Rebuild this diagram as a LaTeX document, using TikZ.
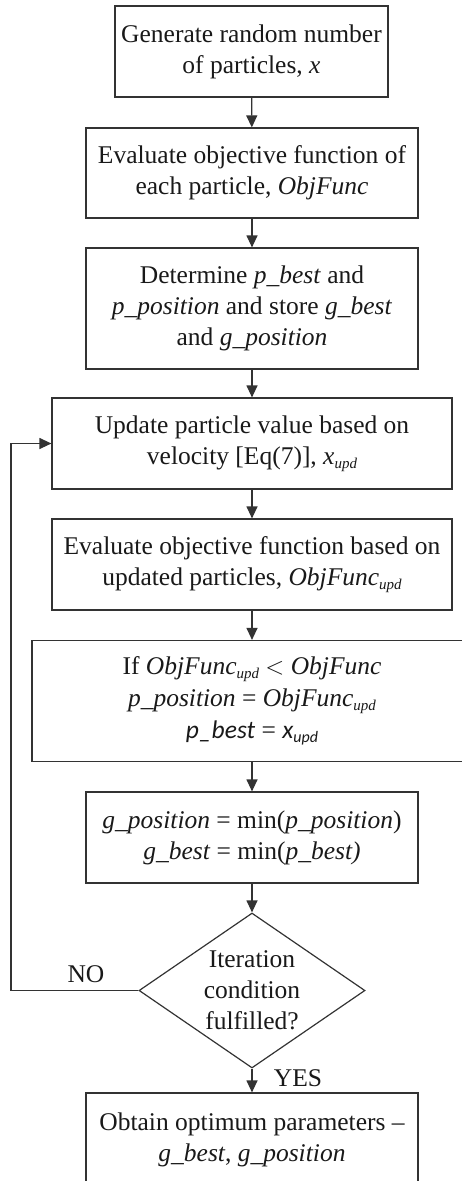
\documentclass[tikz,border=0pt]{standalone}
\usepackage{fontspec}
\setmainfont{Liberation Serif}
\newfontfamily\calfont{Carlito}
\usetikzlibrary{shapes.geometric,arrows.meta}
\newcommand\sbupd{\raisebox{-0.35ex}{\fontsize{15}{15}\selectfont\itshape upd}}
\newcommand\sbupdc{\raisebox{-0.35ex}{\fontsize{16}{16}\selectfont\calfont\itshape upd}}
\begin{document}
\begin{tikzpicture}[x=1pt,y=-1pt,
  every node/.style={font=\fontsize{25.5}{31}\selectfont, text=black!90},
  procbox/.style={draw=black!80, line width=1.2pt, rectangle, inner sep=0pt, align=center},
  decbox/.style={draw=black!80, line width=1.2pt, diamond, inner sep=0pt, align=center,
    minimum width=226pt, minimum height=155pt, aspect=1.46},
  flow/.style={draw=black!80, line width=1.2pt, -{Triangle[length=12pt,width=11pt]}},
  lbl/.style={inner sep=0pt}]
\useasboundingbox (0,0) rectangle (462,1181);
\begin{scope}
\clip (0,0) rectangle (462,1181);
\node[procbox, minimum width=273pt, minimum height=91pt] (b1) at (251.5,51.5)
  {Generate random number\\of particles, \textit{x}};
\node[procbox, minimum width=332pt, minimum height=90pt] (b2) at (252,173)
  {Evaluate objective function of\\each particle, \textit{ObjFunc}};
\node[procbox, minimum width=332pt, minimum height=121pt] (b3) at (252,308.5)
  {Determine \textit{p\_best} and\\\textit{p\_position} and store \textit{g\_best}\\and \textit{g\_position}};
\node[procbox, minimum width=400pt, minimum height=91pt] (b4) at (252,443.5)
  {Update particle value based on\\velocity [Eq(7)], \textit{x}\sbupd};
\node[procbox, minimum width=400pt, minimum height=91pt] (b5) at (252,564.5)
  {Evaluate objective function based on\\updated particles, \textit{ObjFunc}\sbupd};
\node[procbox, minimum width=440pt, minimum height=121pt, font=\fontsize{25.5}{32}\selectfont] (b6) at (252,701)
  {If \textit{ObjFunc}\sbupd{} $<$ \textit{ObjFunc}\\\textit{p\_position} = \textit{ObjFunc}\sbupd\\{\calfont\itshape p\_best} = {\calfont\itshape x}\sbupdc};
\node[procbox, minimum width=332pt, minimum height=91pt] (b7) at (252,837.5)
  {\textit{g\_position} = min(\textit{p\_position})\\\textit{g\_best} = min(\textit{p\_best)}};
\node[decbox] (d1) at (252,990.5) {Iteration\\condition\\fulfilled?};
\node[procbox, minimum width=332pt, minimum height=94pt] (b8) at (252,1140)
  {Obtain optimum parameters --\\\textit{g\_best}, \textit{g\_position}};
\coordinate (lb) at (11,990.5);
\coordinate (lt) at (11,443.5);
\draw[flow] (b1) -- (b2);
\draw[flow] (b2) -- (b3);
\draw[flow] (b3) -- (b4);
\draw[flow] (b4) -- (b5);
\draw[flow] (b5) -- (b6);
\draw[flow] (b6.south -| b7.north) -- (b7);
\draw[flow] (b7) -- (d1);
\draw[flow] (d1) -- (b8);
\draw[flow] (d1.west) -- (lb) -- (lt) -- (b4.west);
\node[lbl] (no) at (86,974) {NO};
\node[lbl] (yes) at (298,1078) {YES};
\end{scope}
\end{tikzpicture}
\end{document}
